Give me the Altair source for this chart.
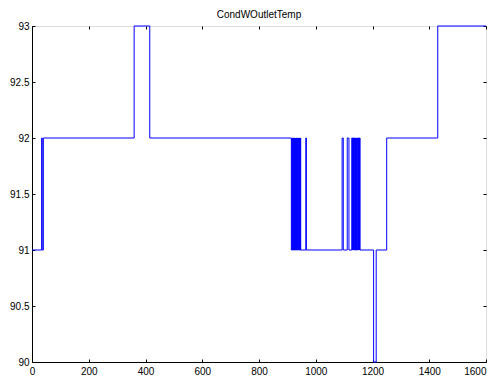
import altair as alt
import pandas as pd

# change points of the signal (step-after)
step_x = [1, 34, 36, 40, 360, 415,
          914, 916, 917, 919, 920, 922, 923, 925, 926, 928, 929, 931, 932, 934,
          935, 937, 938, 940, 941, 943, 944, 946, 947, 965, 967,
          1093, 1097, 1111, 1117,
          1127, 1129, 1130, 1132, 1133, 1135, 1136, 1138, 1140, 1141, 1143, 1144,
          1146, 1148, 1149, 1151, 1152, 1154, 1155, 1156,
          1204, 1213, 1250, 1430, 1600]
step_y = [91, 92, 91, 92, 93, 92,
          91, 92, 91, 92, 91, 92, 91, 92, 91, 92, 91, 92, 91, 92,
          91, 92, 91, 92, 91, 92, 91, 92, 91, 92, 91,
          92, 91, 92, 91,
          92, 91, 92, 91, 92, 91, 92, 91, 92, 91, 92, 91,
          92, 91, 92, 91, 92, 91, 92, 91,
          90, 91, 92, 93, 93]

x_ticks = [0, 200, 400, 600, 800, 1000, 1200, 1400, 1600]
y_ticks = [90, 90.5, 91, 91.5, 92, 92.5, 93]
title_text = "CondWOutletTemp"

df = pd.DataFrame({"x": step_x, "y": step_y})

W, H = 454, 336
FONT = "Liberation Sans"

xs = alt.Scale(domain=[0, 1600], nice=False, zero=False)
ys = alt.Scale(domain=[90, 93], nice=False, zero=False)

base = alt.Chart(df)

main = base.mark_line(color="#0000ff", strokeWidth=1, interpolate="step-after").encode(
    x=alt.X("x:Q", scale=xs, axis=alt.Axis(
        orient="bottom", values=x_ticks, format="d", ticks=False, tickSize=0,
        labelPadding=4, labelFontSize=10, labelFont=FONT, labelColor="black",
        labelAlign={"condition": {"test": "datum.value >= 1600", "value": "right"},
                    "value": "center"},
        domain=True, domainColor="black", domainWidth=1, grid=False, title=None,
        labelFlush=False, labelOverlap=False)),
    y=alt.Y("y:Q", scale=ys, axis=alt.Axis(
        orient="left", values=y_ticks, format="~g", ticks=False, tickSize=0,
        labelPadding=3, labelFontSize=10, labelFont=FONT, labelColor="black",
        domain=True, domainColor="black", domainWidth=1, grid=False, title=None,
        labelFlush=False, labelOverlap=False)),
)

def tick_axis(orient, offset, vals):
    return alt.Axis(orient=orient, offset=offset, values=vals, labels=False,
                    ticks=True, tickSize=3, tickColor="black", tickWidth=1,
                    domain=False, grid=False, title=None)

ticks1 = base.mark_line(opacity=0).encode(
    x=alt.X("x:Q", scale=xs, axis=tick_axis("top", -H, x_ticks)),
    y=alt.Y("y:Q", scale=ys, axis=tick_axis("right", -W, y_ticks)),
)
ticks2 = base.mark_line(opacity=0).encode(
    x=alt.X("x:Q", scale=xs, axis=tick_axis("bottom", -H, x_ticks)),
    y=alt.Y("y:Q", scale=ys, axis=tick_axis("left", -W, y_ticks)),
)

chart = alt.layer(main, ticks1, ticks2).resolve_axis(
    x="independent", y="independent"
).properties(
    width=W, height=H,
    title=alt.TitleParams(title_text, fontSize=10, font=FONT, fontWeight="normal",
                          color="black", anchor="middle", offset=1),
    autosize=alt.AutoSizeParams(type="none"),
    padding={"left": 24, "top": 18, "right": 1, "bottom": 15},
).configure_view(stroke="black", strokeWidth=1).configure(background="white")

chart.save("out.html", embed_options={"renderer": "svg", "actions": False})
